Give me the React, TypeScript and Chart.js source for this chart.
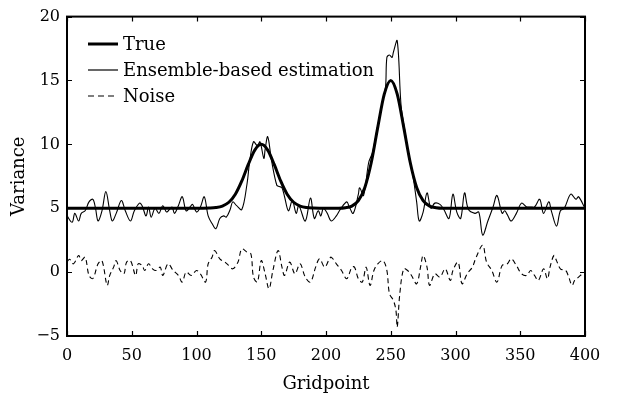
import { useEffect, useRef } from "react";
import { Chart, registerables } from "chart.js";
Chart.register(...registerables);

const xTicks = [0, 50, 100, 150, 200, 250, 300, 350, 400];
const yTicks = [-5, 0, 5, 10, 15, 20];
const legendLabels = ["True", "Ensemble-based estimation", "Noise"];
const xTitle = "Gridpoint";
const yTitle = "Variance";

const trueX = [0, 100, 105, 110, 115, 120, 125, 130, 135, 140, 145, 150, 155, 160, 165, 170, 175, 180, 185, 190, 195, 200,
  205, 210, 215, 220, 225, 230, 235, 240, 245, 250, 255, 260, 265, 270, 275, 280, 285, 290, 295, 300, 400];
const trueY = [5, 5, 5, 5.01, 5.05, 5.17, 5.47, 6.1, 7.14, 8.43, 9.55, 10, 9.55, 8.43, 7.14, 6.1, 5.47, 5.17, 5.05, 5.01, 5, 5,
  5, 5, 5.04, 5.17, 5.59, 6.63, 8.6, 11.35, 13.93, 15, 13.93, 11.35, 8.6, 6.63, 5.59, 5.17, 5.04, 5, 5, 5, 5];

const ensX = [0, 4, 6, 9, 11, 14, 17, 20, 22, 24, 27, 30, 33, 35, 38, 42, 45, 49, 52, 56, 58, 61, 63, 65, 68, 71, 74, 77, 81, 83,
  86, 89, 92, 95, 97, 100, 103, 106, 109, 112, 115, 118, 121, 123, 126, 128, 131, 135, 139, 141, 144, 147, 149, 152, 153, 155,
  158, 162, 164, 166, 168, 171, 174, 177, 179, 184, 188, 191, 194, 196, 198, 201, 204, 208, 211, 216, 218, 221, 225, 226, 229,
  233, 236, 240, 244, 246, 247, 249, 251, 252, 255, 258, 261, 264, 267, 270, 272, 275, 278, 281, 284, 288, 291, 295, 298, 301,
  304, 307, 310, 315, 318, 321, 325, 329, 332, 336, 338, 340, 343, 347, 351, 355, 358, 361, 365, 368, 372, 374, 378, 381, 384,
  389, 393, 395, 400];
const ensY = [4.4, 3.9, 4.6, 4.0, 4.6, 4.8, 5.5, 5.7, 5.0, 4.0, 4.8, 6.3, 4.8, 4.0, 4.6, 5.6, 4.8, 4.0, 4.8, 5.4, 5.2, 4.4, 5.1, 4.3,
  5.0, 4.6, 5.2, 4.7, 5.1, 4.6, 5.2, 5.9, 4.8, 5.1, 5.3, 4.7, 5.1, 5.9, 4.4, 3.8, 3.4, 4.2, 4.4, 4.3, 4.9, 5.5, 5.2, 4.9, 6.9,
  8.6, 10.2, 9.9, 10.2, 8.9, 9.6, 10.6, 8.7, 6.8, 6.7, 6.6, 5.9, 4.8, 5.6, 4.6, 5.2, 4.0, 5.8, 4.2, 4.8, 4.4, 5.0, 4.6, 4.0,
  4.4, 4.9, 5.5, 5.1, 4.6, 6.1, 6.6, 6.0, 8.6, 9.4, 11.5, 13.5, 14.5, 16.8, 17.0, 16.8, 17.2, 18.1, 13.0, 11.0, 9.0, 7.6, 5.5,
  4.0, 4.7, 6.2, 5.0, 5.4, 5.3, 4.9, 4.2, 6.1, 4.7, 4.2, 6.2, 4.9, 4.6, 4.7, 2.9, 4.0, 5.1, 6.0, 4.6, 4.8, 4.5, 4.0, 4.6, 5.4,
  5.1, 5.1, 5.1, 5.7, 4.6, 5.5, 4.8, 3.6, 4.8, 5.0, 6.1, 5.7, 5.9, 5.0];

const noiseX = [0, 2, 5, 9, 11, 14, 17, 20, 24, 27, 31, 33, 36, 38, 41, 44, 46, 49, 53, 55, 58, 60, 63, 66, 69, 72, 74, 78, 82,
  86, 89, 92, 96, 100, 103, 107, 109, 112, 114, 118, 122, 125, 128, 132, 135, 139, 142, 144, 147, 150, 153, 156, 159, 163, 166,
  168, 172, 176, 180, 184, 188, 192, 195, 199, 202, 204, 208, 212, 216, 220, 222, 225, 228, 231, 234, 237, 240, 244, 247, 249,
  252, 254, 255, 257, 260, 263, 266, 270, 273, 275, 278, 280, 284, 288, 292, 296, 298, 302, 305, 309, 313, 316, 321, 324, 328,
  332, 336, 340, 343, 347, 351, 355, 358, 361, 364, 368, 371, 373, 376, 378, 381, 385, 387, 390, 392, 395, 398, 400];
const noiseY = [0.8, 1.0, 0.65, 1.3, 0.9, 1.17, -0.26, -0.5, 0.65, 0.9, -1.04, -0.26, 0.39, 0.9, 0.13, -0.13, 0.78, 0.9, -0.26,
  0.65, 0.52, 0.13, 0.65, 0.26, 0.13, 0.39, -0.26, 0.65, 0.13, -0.26, -0.78, 0.0, -0.26, 0.13, -0.13, -0.78, 0.65, 1.17, 1.69,
  1.04, 0.78, 0.52, 0.26, 0.78, 1.82, 1.56, 1.43, -0.39, -0.78, 0.9, -0.13, -1.3, 0.13, 1.69, 0.39, -0.26, 0.78, -0.13, 0.65,
  -0.39, -0.78, 0.39, 1.04, 0.39, 0.9, 1.17, 0.65, 0.13, -0.52, 0.39, 0.39, -0.52, -0.78, 0.39, -1.04, 0.13, 0.65, 0.9, 0.13,
  -1.69, -2.2, -3.0, -4.3, -1.69, 0.26, 0.13, -0.26, -0.91, 0.39, 1.3, 0.39, -1.04, -0.13, -0.39, 0.26, -0.65, 0.13, 0.78,
  -0.91, -0.13, 0.39, 1.17, 2.1, 0.78, 0.13, -0.78, 0.52, 0.65, 1.04, 0.52, -0.13, -0.26, 0.13, -0.26, -0.65, 0.26, -0.52,
  0.39, 1.3, 0.9, 0.26, 0.13, -0.26, -1.04, -0.65, -0.39, -0.13, 0.0];

const FONT = "'DejaVu Serif', serif";

function pts(xs: number[], ys: number[]) {
  return xs.map((x, i) => ({ x, y: ys[i] }));
}

const framePlugin = {
  id: "frame",
  afterDatasetsDraw(chart: any) {
    const { ctx, chartArea: a, scales } = chart;
    ctx.save();
    ctx.strokeStyle = "#000";
    ctx.lineWidth = 2;
    ctx.setLineDash([]);
    ctx.strokeRect(a.left, a.top, a.right - a.left, a.bottom - a.top);
    ctx.lineWidth = 1.2;
    ctx.beginPath();
    for (const t of xTicks) {
      const px = Math.round(scales.x.getPixelForValue(t)) + 0.5;
      ctx.moveTo(px, a.bottom);
      ctx.lineTo(px, a.bottom - 5);
      ctx.moveTo(px, a.top);
      ctx.lineTo(px, a.top + 5);
    }
    for (const t of yTicks) {
      const py = Math.round(scales.y.getPixelForValue(t)) + 0.5;
      ctx.moveTo(a.left, py);
      ctx.lineTo(a.left + 5, py);
      ctx.moveTo(a.right, py);
      ctx.lineTo(a.right - 5, py);
    }
    ctx.stroke();

    // legend
    const lx0 = 88, lx1 = 118, tx = 123;
    const rows = [44, 70, 96];
    const widths = [3, 1.2, 1.2];
    const dashes = [[], [], [6, 4]];
    ctx.font = `18px ${FONT}`;
    ctx.fillStyle = "#000";
    ctx.textBaseline = "middle";
    ctx.textAlign = "left";
    legendLabels.forEach((lab, i) => {
      ctx.beginPath();
      ctx.lineWidth = widths[i];
      ctx.setLineDash(dashes[i]);
      ctx.moveTo(lx0, rows[i]);
      ctx.lineTo(lx1, rows[i]);
      ctx.stroke();
      ctx.setLineDash([]);
      ctx.fillText(lab, tx, rows[i] + 1);
    });
    ctx.restore();
  },
};

export default function App() {
  const ref = useRef<HTMLCanvasElement>(null);
  useEffect(() => {
    if (!ref.current) return;
    const chart = new Chart(ref.current, {
      type: "line",
      data: {
        datasets: [
          {
            label: legendLabels[0],
            data: pts(trueX, trueY),
            borderColor: "#000",
            borderWidth: 3,
            pointRadius: 0,
            cubicInterpolationMode: "monotone",
          },
          {
            label: legendLabels[1],
            data: pts(ensX, ensY),
            borderColor: "#000",
            borderWidth: 1.1,
            pointRadius: 0,
            tension: 0.35,
          },
          {
            label: legendLabels[2],
            data: pts(noiseX, noiseY),
            borderColor: "#000",
            borderWidth: 1.1,
            borderDash: [5, 3.5],
            pointRadius: 0,
            tension: 0.35,
          },
        ],
      },
      options: {
        responsive: false,
        animation: false,
        layout: { padding: { left: 0, right: 33, top: 15, bottom: 0 } },
        plugins: { legend: { display: false }, tooltip: { enabled: false } },
        scales: {
          x: {
            type: "linear",
            min: 0,
            max: 400,
            afterBuildTicks: (s: any) => {
              s.ticks = xTicks.map((v) => ({ value: v }));
            },
            afterFit: (s: any) => {
              s.height = 62;
            },
            grid: { display: false, drawTicks: false },
            border: { display: false },
            ticks: { color: "#000", font: { family: FONT, size: 16 }, padding: 10, maxRotation: 0 },
            title: { display: true, text: xTitle, color: "#000", font: { family: FONT, size: 18 }, padding: { top: 0, bottom: 3 } },
          },
          y: {
            type: "linear",
            min: -5,
            max: 20,
            afterBuildTicks: (s: any) => {
              s.ticks = yTicks.map((v) => ({ value: v }));
            },
            afterFit: (s: any) => {
              s.width = 67;
            },
            grid: { display: false, drawTicks: false },
            border: { display: false },
            ticks: {
              color: "#000",
              font: { family: FONT, size: 16 },
              padding: 7,
              callback: (v: any) => (v < 0 ? "\u2212" + Math.abs(v) : String(v)),
            },
            title: { display: true, text: yTitle, color: "#000", font: { family: FONT, size: 18 }, padding: { top: 9, bottom: 0 } },
          },
        },
      },
      plugins: [framePlugin],
    } as any);
    return () => chart.destroy();
  }, []);
  return (
    <div style={{ position: "fixed", left: 0, top: 0, width: 618, height: 398, background: "#fff" }}>
      <canvas ref={ref} width={618} height={398} style={{ display: "block" }} />
    </div>
  );
}
